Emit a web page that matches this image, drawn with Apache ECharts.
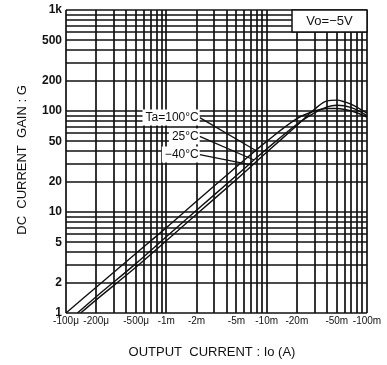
<!DOCTYPE html>
<html><head><meta charset="utf-8">
<script src="https://cdn.jsdelivr.net/npm/echarts@6/dist/echarts.min.js"></script>
<style>html,body{margin:0;padding:0;background:#fff}#c{width:387px;height:365px}</style>
</head><body><div id="c"></div>
<script>
// ---- data ----
const xTickValues = [1e-4, 2e-4, 5e-4, 1e-3, 2e-3, 5e-3, 1e-2, 2e-2, 5e-2, 1e-1];
const xTickLabels = ['-100\u03bc', '-200\u03bc', '-500\u03bc', '-1m', '-2m', '-5m', '-10m', '-20m', '-50m', '-100m'];
const yTickValues = [1, 2, 5, 10, 20, 50, 100, 200, 500, 1000];
const yTickLabels = ['1', '2', '5', '10', '20', '50', '100', '200', '500', '1k'];
const seriesNames = ['Ta=100\u00b0C', '25\u00b0C', '\u221240\u00b0C'];
const current100 = [1e-4, 2e-4, 5e-4, 1e-3, 2e-3, 5e-3, 1e-2, 2e-2, 3e-2, 4e-2, 5e-2, 7e-2, 1e-1];
const gain100    = [1, 1.8, 3.9, 7.0, 12.8, 28, 50, 84, 100, 106, 106, 100, 87];
const current25  = [1.3e-4, 2e-4, 5e-4, 1e-3, 2e-3, 5e-3, 1e-2, 2e-2, 3e-2, 4e-2, 5e-2, 7e-2, 1e-1];
const gain25     = [1, 1.45, 3.1, 5.7, 10.4, 23, 42, 74, 96, 110, 114, 108, 90];
const currentM40 = [1.4e-4, 2e-4, 5e-4, 1e-3, 2e-3, 5e-3, 1e-2, 2e-2, 3e-2, 4e-2, 5e-2, 6e-2, 7e-2, 1e-1];
const gainM40    = [1, 1.35, 2.85, 5.2, 9.5, 21, 39, 72, 104, 126, 128, 123, 116, 95];
const xGridValues = [1e-4,2e-4,3e-4,4e-4,5e-4,6e-4,7e-4,8e-4,9e-4,1e-3,2e-3,3e-3,4e-3,5e-3,6e-3,7e-3,8e-3,9e-3,1e-2,2e-2,3e-2,4e-2,5e-2,6e-2,7e-2,8e-2,9e-2,1e-1];
const yGridValues = [1,2,3,4,5,6,7,8,9,10,20,30,40,50,60,70,80,90,100,200,300,400,500,600,700,800,900,1000];
const labelAnchorI = 2.15e-3;
const labelAnchorG = [86, 56, 37];
const pointerTargetI = [7.8e-3, 7.5e-3, 7.2e-3];
const boxText = 'Vo=\u22125V';

const zip = (a, b) => a.map((v, i) => [v, b[i]]);
const curves = [zip(current100, gain100), zip(current25, gain25), zip(currentM40, gainM40)];

const chart = echarts.init(document.getElementById('c'), null, {renderer: 'canvas'});
const FONT = 'Liberation Sans, Arial, sans-serif';

function interpLog(pts, x) {
  for (let i = 0; i < pts.length - 1; i++) {
    if (x >= pts[i][0] && x <= pts[i + 1][0]) {
      const t = (Math.log10(x) - Math.log10(pts[i][0])) / (Math.log10(pts[i + 1][0]) - Math.log10(pts[i][0]));
      return Math.pow(10, Math.log10(pts[i][1]) + t * (Math.log10(pts[i + 1][1]) - Math.log10(pts[i][1])));
    }
  }
  return pts[pts.length - 1][1];
}

chart.setOption({
  animation: false,
  backgroundColor: '#fff',
  grid: {left: 66, right: 20, top: 10, bottom: 52, show: false},
  xAxis: {type: 'log', logBase: 10, min: 1e-4, max: 1e-1,
    axisLine: {show: false}, axisTick: {show: false}, axisLabel: {show: false}, splitLine: {show: false}},
  yAxis: {type: 'log', logBase: 10, min: 1, max: 1000,
    axisLine: {show: false}, axisTick: {show: false}, axisLabel: {show: false}, splitLine: {show: false}},
  series: curves.map((d, i) => ({
    name: seriesNames[i], type: 'line', data: d, smooth: 0.35, showSymbol: false, z: 5,
    lineStyle: {color: '#111', width: 1.4}
  }))
});

const px = v => chart.convertToPixel({xAxisIndex: 0}, v);
const py = v => chart.convertToPixel({yAxisIndex: 0}, v);
const L = px(1e-4), R = px(1e-1), T = py(1000), B = py(1);
const g = [];
xGridValues.forEach(v => { const x = Math.round(px(v)); g.push({type: 'line', z: 1, shape: {x1: x, y1: T, x2: x, y2: B}, style: {stroke: '#111', lineWidth: 1.7}}); });
yGridValues.forEach(v => { const y = Math.round(py(v)); g.push({type: 'line', z: 1, shape: {x1: L, y1: y, x2: R, y2: y}, style: {stroke: '#111', lineWidth: 1.7}}); });
xTickValues.forEach((v, i) => g.push({type: 'text', z: 3, x: px(v), y: B + 3,
  style: {text: xTickLabels[i], font: '10px ' + FONT, fill: '#111', align: 'center', verticalAlign: 'top'}}));
yTickValues.forEach((v, i) => g.push({type: 'text', z: 3, x: L - 4, y: py(v),
  style: {text: yTickLabels[i], font: 'bold 12px ' + FONT, fill: '#111', align: 'right', verticalAlign: 'middle'}}));
// axis names
g.push({type: 'text', z: 3, x: 212, y: 352, style: {text: 'OUTPUT  CURRENT : Io (A)', font: '13px ' + FONT, fill: '#111', align: 'center', verticalAlign: 'middle'}});
g.push({type: 'text', z: 3, x: 22, y: 160, rotation: Math.PI / 2, style: {text: 'DC  CURRENT  GAIN : G', font: '13px ' + FONT, fill: '#111', align: 'center', verticalAlign: 'middle'}});
// Vo box
g.push({type: 'rect', z: 8, shape: {x: 292, y: T, width: R - 292, height: 22}, style: {fill: '#fff', stroke: '#111', lineWidth: 1.5}});
g.push({type: 'text', z: 9, x: (292 + R) / 2, y: T + 11, style: {text: boxText, font: '13px ' + FONT, fill: '#111', align: 'center', verticalAlign: 'middle'}});
// curve labels + pointers
seriesNames.forEach((n, i) => {
  const ax = px(labelAnchorI), ay = py(labelAnchorG[i]);
  const tx = px(pointerTargetI[i]), ty = py(interpLog(curves[i], pointerTargetI[i]));
  g.push({type: 'line', z: 6, shape: {x1: ax, y1: ay, x2: tx, y2: ty}, style: {stroke: '#111', lineWidth: 1.3}});
  g.push({type: 'text', z: 7, x: ax, y: ay, style: {text: n, font: '12px ' + FONT, fill: '#111', align: 'right', verticalAlign: 'middle', backgroundColor: '#fff', padding: [2, 1, 2, 3]}});
});
chart.setOption({graphic: g});
</script></body></html>
